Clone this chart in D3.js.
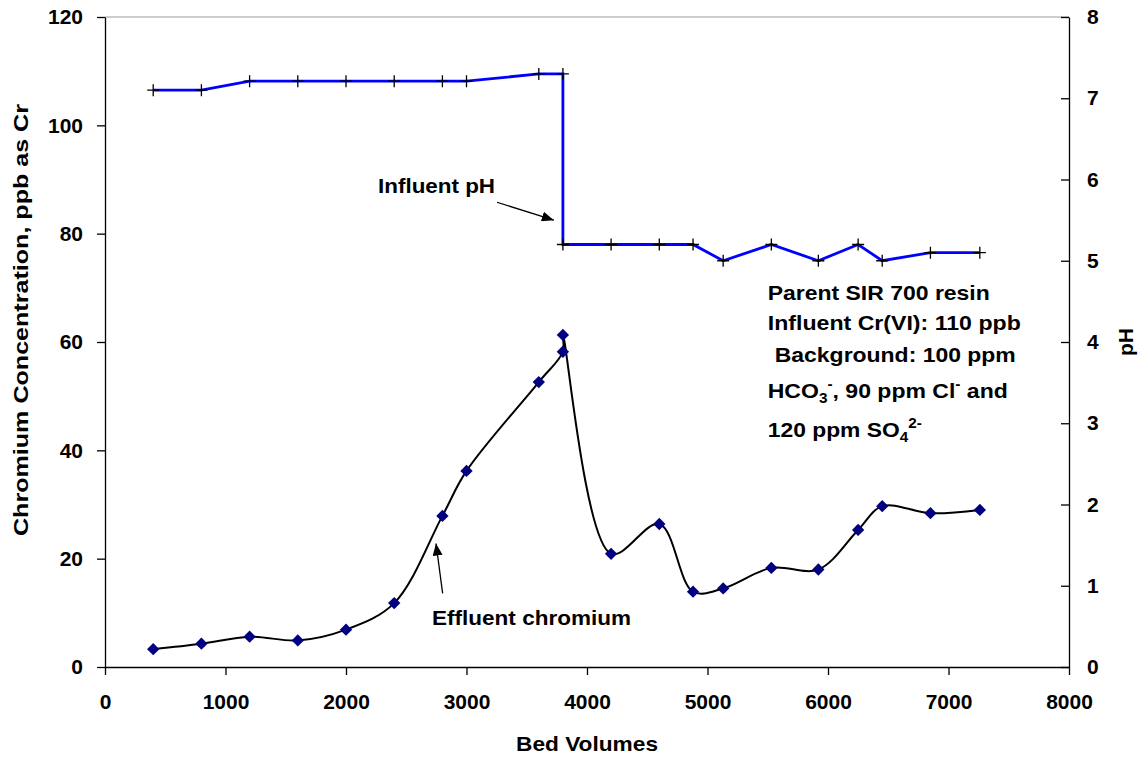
<!DOCTYPE html>
<html>
<head>
<meta charset="utf-8">
<script src="https://cdn.jsdelivr.net/npm/d3@7/dist/d3.min.js"></script>
<style>
  html, body { margin: 0; padding: 0; background: #fff; }
  svg { display: block; }
  text { font-family: "Liberation Sans", Arial, sans-serif; font-weight: bold; fill: #000; }
</style>
</head>
<body>
<svg id="chart" width="1139" height="759"></svg>
<script>
// Bed volumes at which the effluent chromium was sampled
const bedVolumesCr = [400, 800, 1200, 1600, 2000, 2400, 2800, 3000, 3600, 3800, 3800, 4200, 4600, 4880, 5130, 5530, 5920, 6250, 6450, 6850, 7260];
// Effluent chromium, ppb as Cr
const chromium = [3.3, 4.3, 5.6, 4.9, 6.9, 11.8, 27.9, 36.2, 52.6, 58.2, 61.3, 20.9, 26.4, 13.9, 14.5, 18.3, 18.0, 25.3, 29.7, 28.4, 29.0];

// Bed volumes at which the influent pH was recorded
const bedVolumesPh = [400, 800, 1200, 1600, 2000, 2400, 2800, 3000, 3600, 3800, 3800, 4200, 4600, 4880, 5130, 5530, 5920, 6250, 6450, 6850, 7260];
// Influent pH
const influentPh = [7.1, 7.1, 7.21, 7.21, 7.21, 7.21, 7.21, 7.21, 7.3, 7.3, 5.2, 5.2, 5.2, 5.2, 5.0, 5.2, 5.0, 5.2, 5.0, 5.1, 5.1];

// Axis ticks
const xTicks = [0, 1000, 2000, 3000, 4000, 5000, 6000, 7000, 8000];
const crTicks = [0, 20, 40, 60, 80, 100, 120];
const phTicks = [0, 1, 2, 3, 4, 5, 6, 7, 8];

const svg = d3.select("#chart");
const plot = { left: 105, right: 1069, top: 17, bottom: 667 };

const x = d3.scaleLinear().domain([0, 8000]).range([plot.left, plot.right]);
const yCr = d3.scaleLinear().domain([0, 120]).range([plot.bottom, plot.top]);
const yPh = d3.scaleLinear().domain([0, 8]).range([plot.bottom, plot.top]);

// Arrowhead for the annotation leaders
svg.append("defs").append("marker")
  .attr("id", "head")
  .attr("viewBox", "0 0 12 10")
  .attr("refX", 12).attr("refY", 5)
  .attr("markerWidth", 12).attr("markerHeight", 10)
  .attr("markerUnits", "userSpaceOnUse")
  .attr("orient", "auto")
  .append("path").attr("d", "M0,0L12,5L0,10Z").attr("fill", "#000");

// Plot frame top edge
svg.append("line")
  .attr("x1", plot.left).attr("x2", plot.right)
  .attr("y1", plot.top).attr("y2", plot.top)
  .attr("stroke", "#9a9a9a").attr("stroke-width", 1);

// Axes
const styleAxis = g => {
  g.selectAll("path.domain").attr("stroke", "#000").attr("stroke-width", 1.3);
  g.selectAll(".tick line").attr("stroke", "#000").attr("stroke-width", 1.3);
  g.selectAll(".tick text").attr("font-size", 21).attr("font-family", "Liberation Sans, Arial, sans-serif").attr("font-weight", "bold");
};

svg.append("g")
  .attr("transform", `translate(0,${plot.bottom})`)
  .call(d3.axisBottom(x).tickValues(xTicks).tickFormat(d3.format("d")).tickSize(8).tickSizeOuter(0).tickPadding(19))
  .call(styleAxis);

svg.append("g")
  .attr("transform", `translate(${plot.left},0)`)
  .call(d3.axisLeft(yCr).tickValues(crTicks).tickSize(8).tickSizeOuter(0).tickPadding(14))
  .call(styleAxis);

svg.append("g")
  .attr("transform", `translate(${plot.right},0)`)
  .call(d3.axisRight(yPh).tickValues(phTicks).tickSize(-8).tickSizeOuter(0).tickPadding(18))
  .call(styleAxis);

// Axis titles
svg.append("text")
  .attr("transform", "translate(28,320) rotate(-90)")
  .attr("text-anchor", "middle").attr("font-size", 21)
  .attr("textLength", 432).attr("lengthAdjust", "spacingAndGlyphs")
  .text("Chromium Concentration, ppb as Cr");

svg.append("text")
  .attr("x", (plot.left + plot.right) / 2).attr("y", 751)
  .attr("text-anchor", "middle").attr("font-size", 21)
  .attr("textLength", 142).attr("lengthAdjust", "spacingAndGlyphs")
  .text("Bed Volumes");

svg.append("text")
  .attr("transform", "translate(1133,342) rotate(-90)")
  .attr("text-anchor", "middle").attr("font-size", 21)
  .text("pH");

// Influent pH series
const phData = bedVolumesPh.map((bv, i) => ({ bv, v: influentPh[i] }));
svg.append("path")
  .datum(phData)
  .attr("fill", "none").attr("stroke", "#0000ff").attr("stroke-width", 2.8)
  .attr("d", d3.line().x(d => x(d.bv)).y(d => yPh(d.v)));

svg.append("g").selectAll("path")
  .data(phData).join("path")
  .attr("transform", d => `translate(${x(d.bv)},${yPh(d.v)})`)
  .attr("d", "M-6,0H6M0,-6V6")
  .attr("stroke", "#000").attr("stroke-width", 1.3).attr("fill", "none");

// Effluent chromium series (smoothed)
const crData = bedVolumesCr.map((bv, i) => ({ bv, v: chromium[i] }));
svg.append("path")
  .datum(crData)
  .attr("fill", "none").attr("stroke", "#000").attr("stroke-width", 2)
  .attr("d", d3.line().curve(d3.curveCatmullRom.alpha(0.5)).x(d => x(d.bv)).y(d => yCr(d.v)));

const diamond = d3.symbol().type(d3.symbolSquare).size(76)();
svg.append("g").selectAll("path")
  .data(crData).join("path")
  .attr("transform", d => `translate(${x(d.bv)},${yCr(d.v)}) rotate(45)`)
  .attr("d", diamond)
  .attr("fill", "#000080");

// Annotations
svg.append("text")
  .attr("x", x(2266)).attr("y", yPh(5.83))
  .attr("font-size", 21).attr("textLength", 117).attr("lengthAdjust", "spacingAndGlyphs")
  .text("Influent pH");
svg.append("line")
  .attr("x1", x(3253)).attr("y1", yPh(5.72))
  .attr("x2", x(3725)).attr("y2", yPh(5.5))
  .attr("stroke", "#000").attr("stroke-width", 1.3)
  .attr("marker-end", "url(#head)");

svg.append("text")
  .attr("x", x(2714)).attr("y", yCr(7.75))
  .attr("font-size", 21).attr("textLength", 199).attr("lengthAdjust", "spacingAndGlyphs")
  .text("Effluent chromium");
svg.append("line")
  .attr("x1", x(2802)).attr("y1", yCr(13.6))
  .attr("x2", x(2747)).attr("y2", yCr(22.8))
  .attr("stroke", "#000").attr("stroke-width", 1.3)
  .attr("marker-end", "url(#head)");

// Experimental conditions text block
const noteX = x(5500);
const note = svg.append("g").attr("font-size", 21);
note.append("text").attr("x", noteX).attr("y", 300)
  .attr("textLength", 222).attr("lengthAdjust", "spacingAndGlyphs")
  .text("Parent SIR 700 resin");
note.append("text").attr("x", noteX).attr("y", 330)
  .attr("textLength", 253).attr("lengthAdjust", "spacingAndGlyphs")
  .text("Influent Cr(VI): 110 ppb");
note.append("text").attr("x", noteX + 7).attr("y", 362)
  .attr("textLength", 241).attr("lengthAdjust", "spacingAndGlyphs")
  .text("Background: 100 ppm");

const l4 = note.append("text").attr("x", noteX).attr("y", 398)
  .attr("textLength", 240).attr("lengthAdjust", "spacingAndGlyphs");
l4.append("tspan").text("HCO");
l4.append("tspan").attr("font-size", 14).attr("dy", 5).text("3");
l4.append("tspan").attr("font-size", 14).attr("dy", -14).text("-");
l4.append("tspan").attr("dy", 9).text(", 90 ppm Cl");
l4.append("tspan").attr("font-size", 14).attr("dy", -9).text("-");
l4.append("tspan").attr("dy", 9).text(" and");

const l5 = note.append("text").attr("x", noteX).attr("y", 437)
  .attr("textLength", 154).attr("lengthAdjust", "spacingAndGlyphs");
l5.append("tspan").text("120 ppm SO");
l5.append("tspan").attr("font-size", 14).attr("dy", 5).text("4");
l5.append("tspan").attr("font-size", 14).attr("dy", -14).text("2-");
</script>
</body>
</html>
